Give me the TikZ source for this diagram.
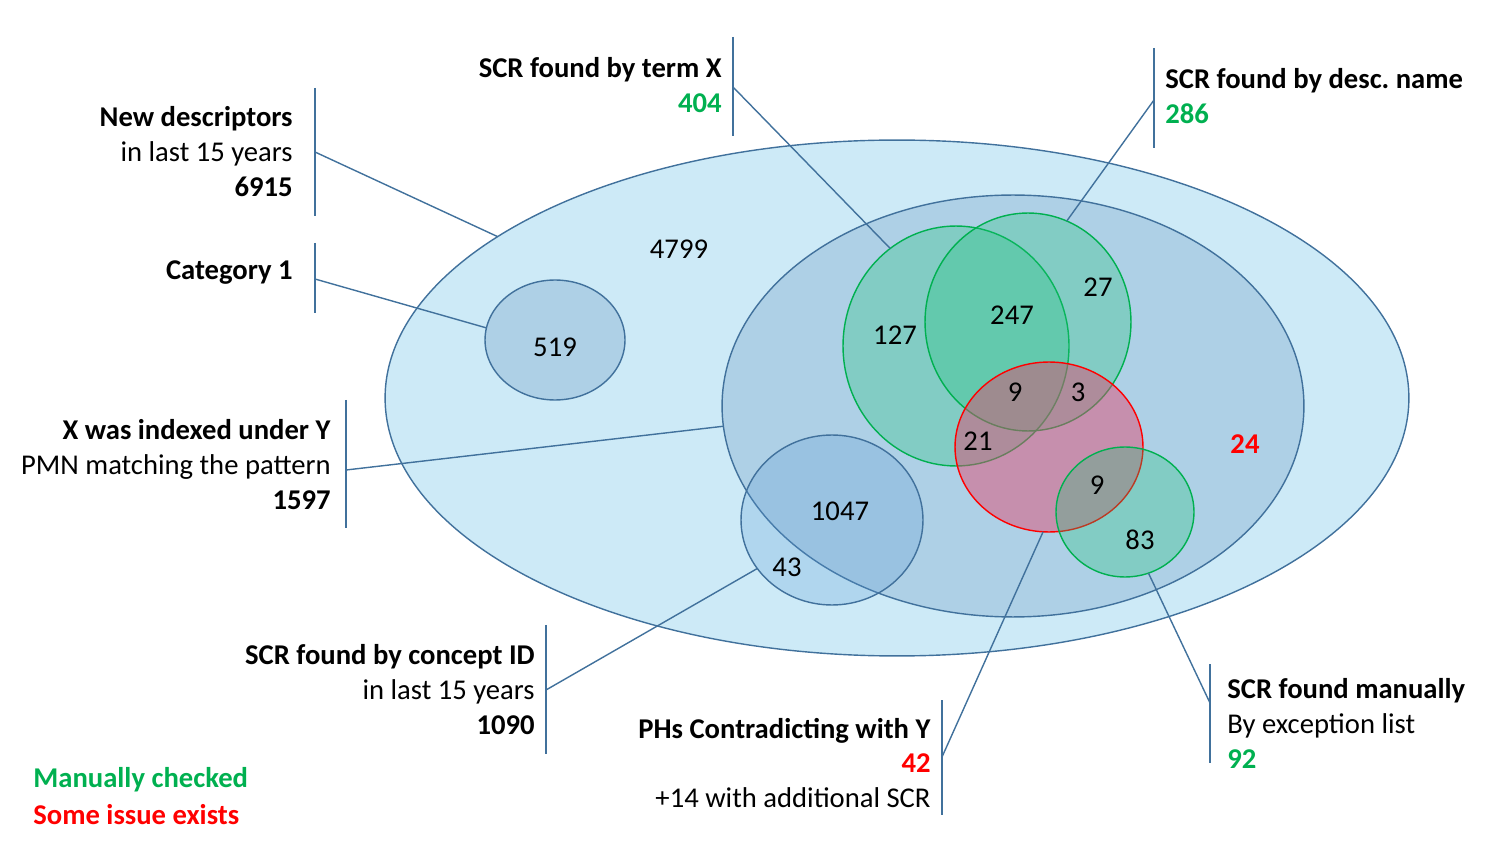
\documentclass[tikz,border=0pt]{standalone}
\usepackage{fontspec}
\setmainfont{Carlito}
\usetikzlibrary{shapes.geometric}

\definecolor{lineblue}{HTML}{41719C}
\definecolor{outerfill}{HTML}{CDEAF7}
\definecolor{innerfill}{HTML}{AED0E6}
\definecolor{okgreen}{HTML}{00B050}
\definecolor{issuered}{HTML}{FF0000}
\definecolor{setgreen}{RGB}{30,195,120}
\definecolor{setred}{RGB}{225,70,110}
\definecolor{setblue}{HTML}{5B9BD5}

\begin{document}
\begin{tikzpicture}[x=0.02cm, y=-0.02cm,
  every node/.style={font=\fontsize{16.3}{19.9}\selectfont},
  blob/.style={ellipse, draw=lineblue, line width=0.8pt, inner sep=0pt, outer sep=0pt},
  greenset/.style={blob, draw=okgreen, fill=setgreen, fill opacity=0.3},
  redset/.style={blob, draw=issuered, fill=setred, fill opacity=0.47},
  tagleft/.style={align=right, anchor=east, inner sep=0pt},
  tagright/.style={align=left, anchor=west, inner sep=0pt},
  bar/.style={draw=lineblue, line width=0.8pt}]
  \useasboundingbox (0,0) rectangle (1492,844);

  % sets
  \node[blob, fill=outerfill, minimum width=20.48cm, minimum height=10.32cm] (outer) at (897,398) {};
  \node[blob, fill=innerfill, minimum width=2.8cm, minimum height=2.4cm] (cat) at (555,340) {};
  \node[blob, fill=innerfill, minimum width=11.64cm, minimum height=8.44cm] (mid) at (1013,406) {};
  \node[blob, fill=setblue, fill opacity=0.25, minimum width=3.64cm, minimum height=3.4cm] (cid) at (832,520) {};
  \node[greenset, minimum width=4.52cm, minimum height=4.8cm] (term) at (956,346) {};
  \node[greenset, minimum width=4.12cm, minimum height=4.36cm] (desc) at (1028,322) {};
  \node[redset, minimum width=3.76cm, minimum height=3.4cm] (ph) at (1049,447) {};
  \node[greenset, minimum width=2.76cm, minimum height=2.6cm] (man) at (1125,512) {};

  % counts
  \node (n4799) at (679,249) {4799};
  \node (n519) at (555,347) {519};
  \node (n127) at (895,335) {127};
  \node (n247) at (1012,315) {247};
  \node (n27) at (1098,287) {27};
  \node (n9a) at (1015,392) {9};
  \node (n3) at (1078,392) {3};
  \node (n21) at (978,441) {21};
  \node[text=issuered, font=\fontsize{16.3}{19.9}\selectfont\bfseries] (n24) at (1245,444) {24};
  \node (n9b) at (1097,485) {9};
  \node (n83) at (1140,540) {83};
  \node (n1047) at (840,511) {1047};
  \node (n43) at (787,567) {43};

  % labels
  \node[tagleft] (ndLbl) at (293,152) {\textbf{New descriptors}\\in last 15 years\\\textbf{6915}};
  \node[tagleft] (catLbl) at (293,273) {\textbf{Category 1}};
  \node[tagleft] (termLbl) at (722,85) {\textbf{SCR found by term X}\\\textcolor{okgreen}{\textbf{404}}};
  \node[tagright] (descLbl) at (1165,96) {\textbf{SCR found by desc.\ name}\\\textcolor{okgreen}{\textbf{286}}};
  \node[tagleft] (pmnLbl) at (331,465) {\textbf{X was indexed under Y}\\PMN matching the pattern\\\textbf{1597}};
  \node[tagleft] (cidLbl) at (535,690) {\textbf{SCR found by concept ID}\\in last 15 years\\\textbf{1090}};
  \node[tagleft] (phLbl) at (931,763) {\textbf{PHs Contradicting with Y}\\\textcolor{issuered}{\textbf{42}}\\+14 with additional SCR};
  \node[tagright] (manLbl) at (1227,723) {\textbf{SCR found manually}\\By exception list\\\textcolor{okgreen}{\textbf{92}}};

  \node[anchor=west, inner sep=0pt, text=okgreen, font=\fontsize{16.3}{19.9}\selectfont\bfseries] (keyGreen) at (33,780) {Manually checked};
  \node[anchor=west, inner sep=0pt, text=issuered, font=\fontsize{16.3}{19.9}\selectfont\bfseries] (keyRed) at (33,815) {Some issue exists};

  % bars beside the labels
  \foreach \nm/\x/\ya/\yb/\yh in {nd/315/88/216/152, cat/315/243/313/279,
      term/733/37/136/87, desc/1154/48/148/100, pmn/346/400/528/470,
      cid/546/625/754/690, ph/942/700/815/757, man/1210/664/763/703} {
    \coordinate (\nm Top) at (\x,\ya);
    \coordinate (\nm Bot) at (\x,\yb);
    \coordinate (\nm Hook) at (\x,\yh);
    \draw[bar] (\nm Top) -- (\nm Bot);
  }

  % connectors
  \draw[bar] (ndHook) -- (outer.158.3);
  \draw[bar] (catHook) -- (cat.170);
  \draw[bar] (termHook) -- (term.124.5);
  \draw[bar] (descHook) -- (desc.69.6);
  \draw[bar] (pmnHook) -- (mid.184);
  \draw[bar] (cidHook) -- (cid.213);
  \draw[bar] (phHook) -- (ph.266.6);
  \draw[bar] (manHook) -- (man.291.6);
\end{tikzpicture}
\end{document}
